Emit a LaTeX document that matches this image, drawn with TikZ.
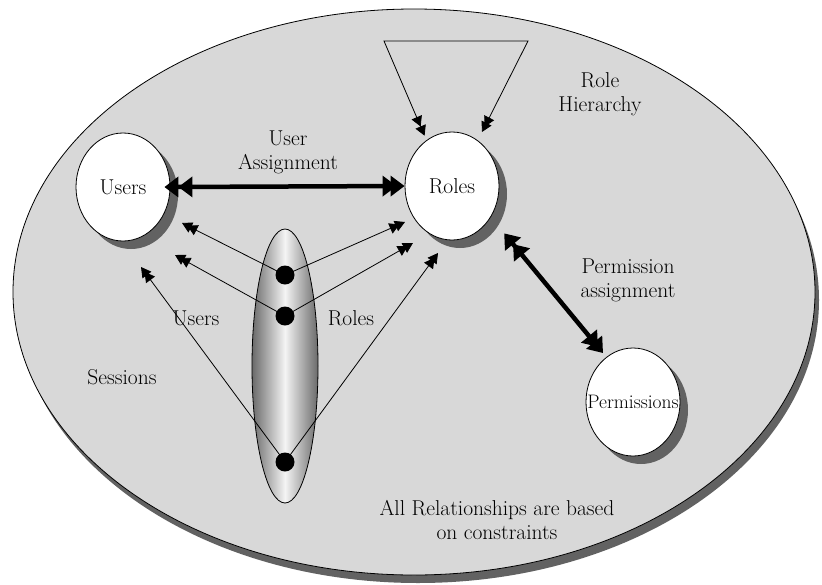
\documentclass[tikz,border=0pt]{standalone}
\usetikzlibrary{arrows.meta,shapes.geometric}
\definecolor{bgfill}{HTML}{D8D8D8}
\definecolor{shadowgray}{HTML}{626262}
\definecolor{tubeedge}{HTML}{6A6A6A}
\definecolor{tubemid}{HTML}{F4F4F4}
\begin{document}
\begin{tikzpicture}[x=1pt,y=-1pt,
  lbl/.style={font=\fontsize{21.5}{24}\selectfont, align=center, inner sep=0pt},
  bubble/.style={ellipse, draw=black, line width=0.8pt, fill=white,
    minimum width=94pt, minimum height=108pt, inner sep=0pt,
    font=\fontsize{21.5}{24}\selectfont},
  bubbleshadow/.style={ellipse, fill=shadowgray, minimum width=94pt,
    minimum height=108pt, inner sep=0pt},
  dot/.style={circle, fill=black, minimum size=19pt, inner sep=0pt},
  thinarrow/.style={line width=0.8pt,
    -{Triangle[length=10pt,width=11pt,sep=-4pt] Triangle[length=10pt,width=11pt]}},
  thickarrow/.style={line width=4.5pt,
    {Triangle[length=14pt,width=20pt,sep=-6pt] Triangle[length=14pt,width=20pt]}-{Triangle[length=14pt,width=20pt,sep=-6pt] Triangle[length=14pt,width=20pt]}},
  hierarrow/.style={line width=0.8pt,
    {Triangle[length=10pt,width=11pt,sep=-4pt] Triangle[length=10pt,width=11pt]}-{Triangle[length=10pt,width=11pt,sep=-4pt] Triangle[length=10pt,width=11pt]}}
]
% canvas
\fill[white] (0,0) rectangle (822,584);
\useasboundingbox (0,0) rectangle (822,584);

% outer region with its drop shadow
\node[ellipse, fill=shadowgray, minimum width=802pt, minimum height=566pt, inner sep=0pt] (universeshadow) at (418,300) {};
\node[ellipse, draw=black, line width=0.8pt, fill=bgfill, minimum width=802pt, minimum height=566pt, inner sep=0pt] (universe) at (414,292) {};

% entity bubbles
\node[bubbleshadow] (usersshadow) at (131,195) {};
\node[bubble] (users) at (123,187) {Users};
\node[bubbleshadow] (rolesshadow) at (460,194) {};
\node[bubble] (roles) at (452,186) {Roles};
\node[bubbleshadow] (permsshadow) at (641,410) {};
\node[bubble, label={[lbl, font=\fontsize{19.5}{24}\selectfont]center:Permissions}] (perms) at (633,402) {};

% session tube and its members
\node[ellipse, draw=black, line width=0.8pt, minimum width=66pt, minimum height=274pt,
  inner sep=0pt, left color=tubeedge, right color=tubeedge, middle color=tubemid] (session) at (285,366) {};
\node[dot] (d1) at (285,275) {};
\node[dot] (d2) at (285,316) {};
\node[dot] (d3) at (285,462) {};

% arrow targets near the bubbles
\coordinate (u1) at (182,223);
\coordinate (u2) at (175,255);
\coordinate (u3) at (141,267);
\coordinate (r1) at (405,222);
\coordinate (r2) at (413,243);
\coordinate (r3) at (438,253);

\draw[thinarrow] (d1.center) -- (u1);
\draw[thinarrow] (d2.center) -- (u2);
\draw[thinarrow] (d3.center) -- (u3);
\draw[thinarrow] (d1.center) -- (r1);
\draw[thinarrow] (d2.center) -- (r2);
\draw[thinarrow] (d3.center) -- (r3);

% role hierarchy loop
\coordinate (t1) at (384,41);
\coordinate (t2) at (528,41);
\coordinate (h1) at (423,132);
\coordinate (h2) at (482,132);
\draw[hierarrow] (h1) -- (t1) -- (t2) -- (h2);

% assignments
\draw[thickarrow] (users.east) -- (roles.west);
\coordinate (pa1) at (508,238);
\coordinate (pa2) at (603,353);
\draw[thickarrow] (pa1) -- (pa2);

% labels
\node[lbl] (hierlabel) at (600,94) {Role\\Hierarchy};
\node[lbl] (ualabel) at (288,152) {User\\Assignment};
\node[lbl] (palabel) at (628,280) {Permission\\assignment};
\node[lbl] (userslabel) at (196,318) {Users};
\node[lbl] (roleslabel) at (351,318) {Roles};
\node[lbl] (sessionslabel) at (122,377) {Sessions};
\node[lbl] (constraints) at (497,520) {All Relationships are based\\on constraints};
\end{tikzpicture}
\end{document}
